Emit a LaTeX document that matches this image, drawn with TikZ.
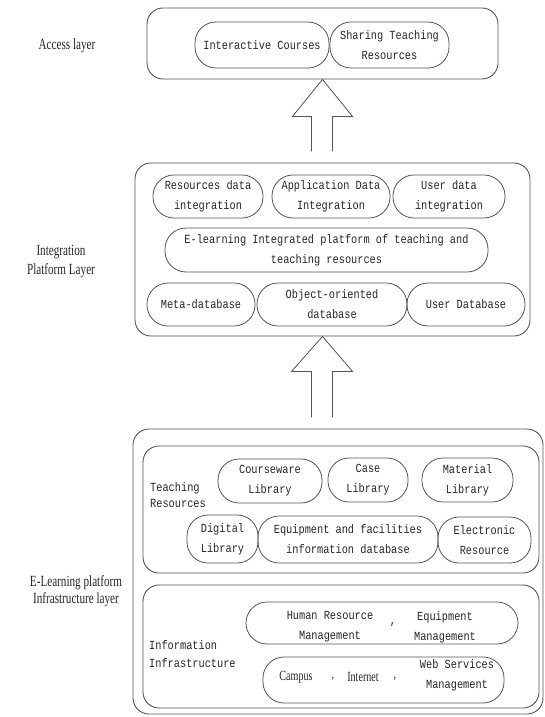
\documentclass[tikz,border=0pt]{standalone}
\usepackage{fontspec}
\usetikzlibrary{calc}
\newfontfamily\monof[FakeStretch=0.83]{Liberation Mono}
\newfontfamily\serf[FakeStretch=0.72]{Liberation Serif}
\definecolor{linec}{gray}{0.33}
\definecolor{txtc}{gray}{0.15}
\newcommand{\boxat}[7]{\node[#1, minimum width={(#4-#2)*1pt}, minimum height={(#5-#3)*1pt}] (#6) at ({(#2+#4)/2},{(#3+#5)/2}) {#7};}
\tikzset{
  layerbox/.style={draw=linec, line width=0.9pt, rounded corners=16pt, inner sep=0pt},
  pill/.style={draw=linec, line width=0.8pt, rounded corners=21pt, inner sep=0pt, align=center, text=txtc,
    font={\monof\fontsize{12.4pt}{20pt}\selectfont}},
  monotext/.style={inner sep=0pt, text=txtc, font={\monof\fontsize{12.4pt}{20pt}\selectfont}},
  serftext/.style={inner sep=0pt, text=txtc, font={\serf\fontsize{15.5pt}{17pt}\selectfont}},
  serfsmall/.style={inner sep=0pt, text=txtc, font={\serf\fontsize{14pt}{17pt}\selectfont}},
  blockarrow/.style={draw=linec, line width=0.8pt, line join=miter},
}
\begin{document}
\begin{tikzpicture}[x=1pt,y=-1pt]
\useasboundingbox (0,0) rectangle (544,717);
% ---------- Access layer ----------
\boxat{layerbox}{147}{8}{498}{79}{acc}{}
\boxat{pill}{195}{22}{329}{68}{ic}{Interactive Courses}
\boxat{pill}{330}{22}{449}{68}{str}{Sharing Teaching\\Resources}
\node[serftext] (lacc) at (67,46) {Access layer};
% ---------- Integration layer ----------
\boxat{layerbox}{135}{163}{530}{336}{integ}{}
\boxat{pill}{153}{175}{263}{218}{rdi}{Resources data\\integration}
\boxat{pill}{272}{175}{390}{218}{adi}{Application Data\\Integration}
\boxat{pill}{393}{175}{505}{218}{udi}{User data\\integration}
\boxat{pill}{165}{228}{488}{272}{elp}{E-learning Integrated platform of teaching and\\teaching resources}
\boxat{pill}{147}{283}{255}{326}{mdb}{Meta-database}
\boxat{pill}{257}{283}{407}{326}{odb}{Object-oriented\\database}
\boxat{pill}{407}{283}{525}{326}{udb}{User Database}
\node[serftext] (lint1) at (61,252) {Integration};
\node[serftext] (lint2) at (61,271) {Platform Layer};
% ---------- Infrastructure layer ----------
\boxat{layerbox}{133}{429}{543}{714}{infra}{}
\boxat{layerbox}{143}{446}{539}{573}{teach}{}
\boxat{layerbox}{143}{585}{539}{708}{info}{}
\node[monotext, anchor=west] (tr1) at (150,488) {Teaching};
\node[monotext, anchor=west] (tr2) at (150,503) {Resources};
\boxat{pill}{218}{459}{322}{503}{cwl}{Courseware\\Library}
\boxat{pill}{328}{458}{408}{502}{cal}{Case\\Library}
\boxat{pill}{422}{458}{513}{502}{mal}{Material\\Library}
\boxat{pill}{187}{515}{258}{563}{dil}{Digital\\Library}
\boxat{pill}{258}{516}{438}{563}{efi}{Equipment and facilities\\information database}
\boxat{pill}{438}{517}{531}{563}{elr}{Electronic\\Resource}
\node[monotext, anchor=west] (ii1) at (149,645) {Information};
\node[monotext, anchor=west] (ii2) at (149,663) {Infrastructure};
\boxat{pill}{246}{602}{518}{644}{hre}{}
\boxat{pill}{263}{657}{504}{703}{cis}{}
\node[monotext, align=center] (hr) at (330,627) {Human Resource\\Management};
\node[monotext] (hrc) at (393,625) {,};
\node[monotext, align=center] (eqm) at (445,627) {Equipment\\Management};
\node[serfsmall] (cmp) at (296,677) {Campus};
\node[serfsmall] (c1) at (333,679) {,};
\node[serfsmall] (inet) at (363,677) {Internet};
\node[serfsmall] (c2) at (395,679) {,};
\node[monotext, align=center] (wsm) at (457,675) {Web Services\\Management};
\node[serftext] (linf1) at (76,583) {E-Learning platform};
\node[serftext] (linf2) at (76,600) {Infrastructure layer};
% ---------- block arrows ----------
\coordinate (t1) at (acc.south);
\draw[blockarrow] ($(t1)+(-11,72)$) -- ($(t1)+(-11,37)$) -- ($(t1)+(-30,37)$) -- (t1)
   -- ($(t1)+(30,37)$) -- ($(t1)+(10,37)$) -- ($(t1)+(10,72)$);
\coordinate (t2) at (t1 |- integ.south);
\draw[blockarrow] ($(t2)+(-11,81)$) -- ($(t2)+(-11,35)$) -- ($(t2)+(-31,35)$) -- (t2)
   -- ($(t2)+(30,35)$) -- ($(t2)+(10,35)$) -- ($(t2)+(10,81)$);
\end{tikzpicture}
\end{document}
